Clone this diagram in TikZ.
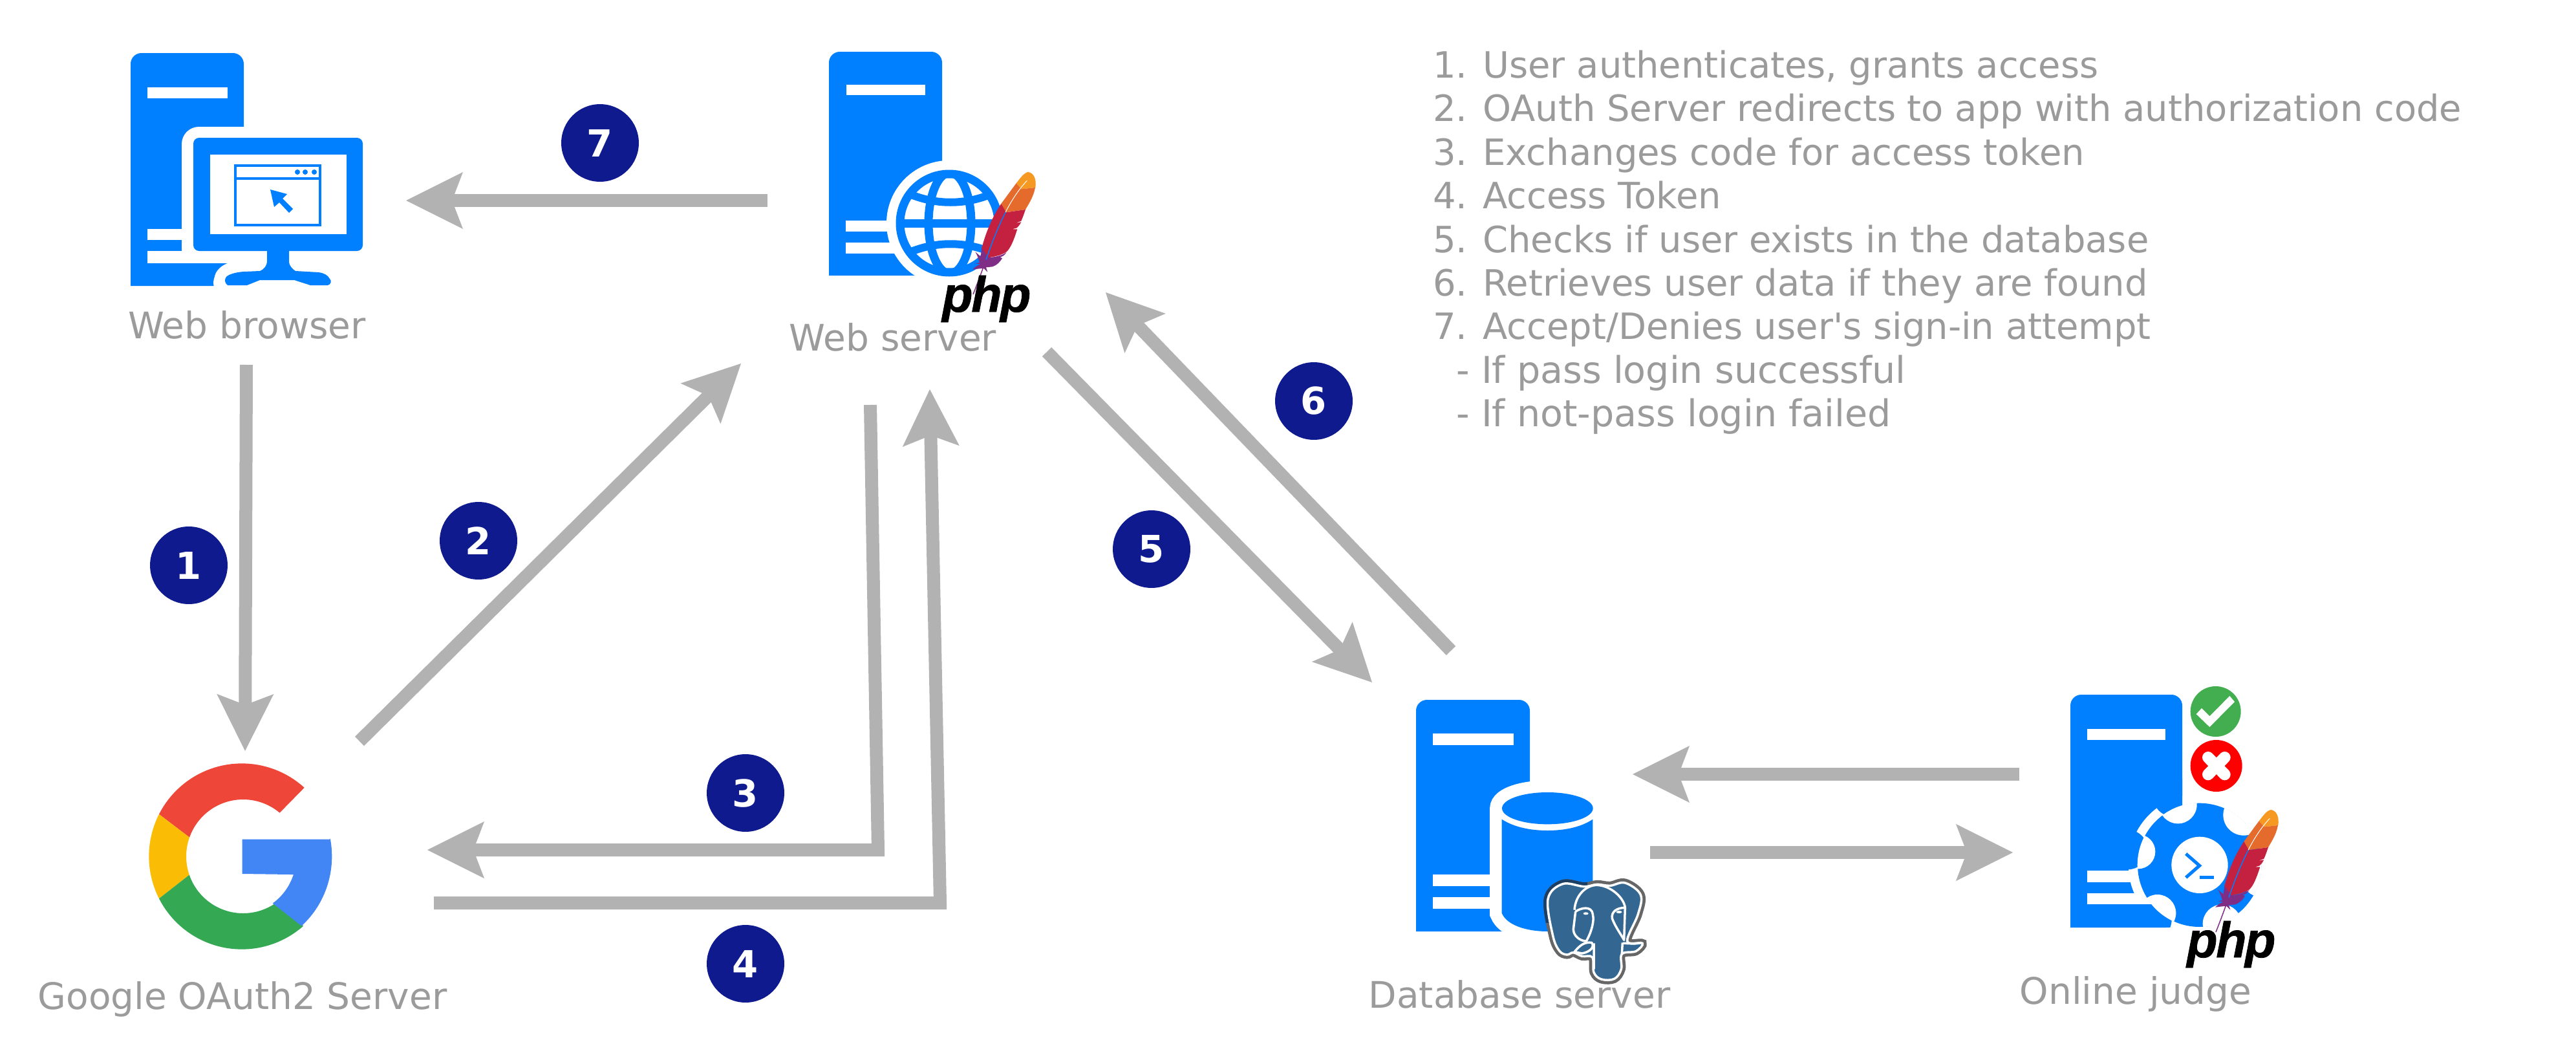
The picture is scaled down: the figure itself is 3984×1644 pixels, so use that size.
\documentclass[tikz,border=0pt]{standalone}
\usepackage{fontspec}
\setmainfont{DejaVu Sans}
\newfontfamily\aposfont{DejaVu Sans}
\newfontfamily\phpfont[LetterSpace=-3,BoldItalicFeatures={FakeBold=1}]{Liberation Sans}
\usetikzlibrary{arrows.meta}
\definecolor{iconblue}{HTML}{0080FF}
\definecolor{flowgray}{HTML}{B2B2B2}
\definecolor{labelgray}{HTML}{9B9B9B}
\definecolor{badgeblue}{HTML}{101A8F}
\definecolor{pgblue}{HTML}{336791}
\definecolor{pgdark}{HTML}{1C3F63}
\definecolor{pggray}{HTML}{666666}
\definecolor{gred}{HTML}{EE4639}
\definecolor{gyellow}{HTML}{FBBC05}
\definecolor{ggreen}{HTML}{34A853}
\definecolor{gblue}{HTML}{4285F4}
\definecolor{okgreen}{HTML}{43AE4F}
\definecolor{fa}{HTML}{F69923}
\definecolor{fb}{HTML}{E56B2C}
\definecolor{fc}{HTML}{C4203F}
\definecolor{fd}{HTML}{7F2D85}
\newcommand\pw[1]{#1*0.025cm}
\newcommand\towershape[4]{%
  \fill[iconblue] (#1,#4) [rounded corners=12pt] -- (#1,#2) -- (#3,#2) [sharp corners] -- (#3,#4) -- cycle;}
\newcommand\slotbar[4]{\fill[white] (#1,#2) rectangle (#3,#4);}
\newcommand\featherlogo[2]{%
  \begin{scope}[shift={(#1,#2)},scale=1/3]
    \fill[fa] (1115,760) .. controls (1135,735) and (1150,712) .. (1170,708) .. controls (1195,710) and (1210,740) .. (1204,780) -- (1140,787) -- cycle;
    \fill[fb] (1115,760) -- (1140,787) -- (1203,780) .. controls (1195,825) and (1170,860) .. (1158,882) -- (1065,895) -- (1045,855) -- cycle;
    \fill[fc] (1045,855) -- (1068,895) -- (1158,882) .. controls (1150,905) and (1145,920) .. (1138,935) -- (1112,945) -- (1138,940) .. controls (1130,955) and (1125,960) .. (1118,967) -- (1097,973) -- (1120,973) .. controls (1105,1020) and (1090,1060) .. (1070,1078) .. controls (1045,1095) and (1015,1100) .. (985,1105) -- (955,1060) .. controls (975,985) and (1005,915) .. (1045,855) -- cycle;
    \fill[fd] (955,1060) -- (985,1105) .. controls (1020,1102) and (1050,1095) .. (1070,1080) .. controls (1060,1095) and (1052,1100) .. (1040,1102) -- (1050,1108) .. controls (1040,1125) and (1025,1140) .. (1005,1147) -- (975,1150) -- (982,1172) -- (965,1155) .. controls (945,1155) and (930,1158) .. (912,1160) .. controls (925,1148) and (935,1140) .. (950,1135) -- (925,1132) -- (945,1128) .. controls (940,1110) and (935,1095) .. (925,1078) -- (950,1100) -- cycle;
    \draw[white,line width=\pw{1}] (1165,748) .. controls (1125,790) and (1090,845) .. (1065,895);
    \draw[iconblue,line width=\pw{1.5}] (1065,895) .. controls (1030,965) and (1000,1040) .. (975,1115);
    \draw[fd,line width=\pw{1.5}] (975,1115) .. controls (955,1170) and (935,1225) .. (915,1275);
  \end{scope}}
\tikzset{
  flow/.style={draw=flowgray,line width=\pw{20},-{Stealth[length=62.6pt,width=62.6pt,inset=12pt,line width=0pt]},miter limit=10},
  badge/.style={circle,fill=badgeblue,text=white,minimum size=85.3pt,inner sep=0pt,font=\fontsize{41pt}{41pt}\selectfont\bfseries},
  tag/.style={anchor=base,inner sep=0pt,text=labelgray,font=\fontsize{40.2pt}{47pt}\selectfont},
  listline/.style={anchor=base west,inner sep=0pt,text=labelgray,font=\fontsize{39.8pt}{47pt}\selectfont},
  subline/.style={listline,font=\fontsize{40.6pt}{47pt}\selectfont},
  phpmark/.style={anchor=base west,inner sep=0pt,text=black,font=\phpfont\fontsize{55pt}{56pt}\selectfont\bfseries\itshape},
}
\begin{document}
\begin{tikzpicture}[x=0.025cm,y=-0.025cm]
\useasboundingbox (0,0) rectangle (3984,1644);
\fill[white] (0,0) rectangle (3984,1644);

%% ---------- web browser icon
\towershape{202}{82}{377}{442}
\slotbar{228}{135}{352}{152}
\slotbar{228}{354}{300}{371}
\slotbar{228}{388}{377}{407}
\fill[white,rounded corners=19pt] (281,196) rectangle (580,406);
\fill[white] (281,370) rectangle (300,388);
\path[fill=white,draw=white,line width=\pw{36},line join=round]
  (413,388) -- (413,403) (402,419) -- (377,420) .. controls (362,421) and (353,425) .. (350,430) -- (348,437) -- (352,441) -- (480,441) -- (507,441) -- (512,435) -- (507,425) -- (493,421) -- (457,419) -- cycle;
\fill[iconblue,rounded corners=6.4pt] (299,213) rectangle (561,388);
\fill[white] (325,239) rectangle (536,362);
\draw[iconblue,line width=\pw{4}] (364,256) rectangle (495,348);
\draw[iconblue,line width=\pw{4}] (364,276) -- (495,276);
\fill[iconblue] (460,266) circle[radius=4] (472,266) circle[radius=4] (486,266) circle[radius=4];
\fill[iconblue] (418,293) -- (444,300) -- (437,307) -- (453,323) -- (447,329) -- (432,313) -- (424,320) -- cycle;
\fill[iconblue] (413,385) -- (413,403) .. controls (413,412) and (407,417) .. (402,419) -- (377,420) .. controls (362,421) and (353,425) .. (350,428) .. controls (347,432) and (347,437) .. (352,441) -- (382,441) -- (402,433) -- (455,433) -- (480,441) -- (507,441) .. controls (512,440) and (513,434) .. (510,431) .. controls (507,425) and (500,422) .. (493,421) -- (457,419) .. controls (452,416) and (447,410) .. (447,405) -- (447,385) -- cycle;

%% ---------- web server icon
\towershape{1282}{80}{1457}{426}
\slotbar{1309}{131}{1431}{147}
\slotbar{1308}{341}{1420}{358}
\slotbar{1308}{375}{1420}{392}
\fill[white] (1468,345) circle[radius=97];
\draw[iconblue,line width=\pw{13}] (1468,345) circle[radius=76];
\begin{scope}
  \clip (1468,345) circle[radius=78];
  \draw[iconblue,line width=\pw{13}] (1469,345) circle[x radius=33,y radius=78];
  \draw[iconblue,line width=\pw{13}] (1385,345) -- (1551,345);
  \draw[iconblue,line width=\pw{12}] (1400,297) .. controls (1445,318) and (1495,318) .. (1540,297);
  \draw[iconblue,line width=\pw{12}] (1400,393) .. controls (1445,372) and (1495,372) .. (1540,393);
\end{scope}
\featherlogo{1200}{30}
\node[phpmark] (phpweb) at (1457,482) {php};

%% ---------- database server icon
\towershape{2190}{1082}{2366}{1440}
\slotbar{2216}{1134}{2341}{1152}
\slotbar{2216}{1352}{2320}{1370}
\slotbar{2216}{1387}{2320}{1405}
\begin{scope}[shift={(2100,1050)},scale=1/3]
  \draw[white,fill=white,line width=\pw{37}] (668,600) .. controls (668,555) and (770,525) .. (880,525) .. controls (990,525) and (1090,555) .. (1090,600) -- (1090,1085) .. controls (1070,1140) and (980,1170) .. (880,1170) .. controls (780,1170) and (690,1140) .. (668,1085) -- cycle;
  \fill[iconblue] (880,599) circle[x radius=211,y radius=74];
  \fill[iconblue] (668,650) .. controls (730,690) and (810,702) .. (880,702) .. controls (950,702) and (1030,690) .. (1090,650) -- (1090,1085) .. controls (1070,1140) and (980,1170) .. (880,1170) .. controls (780,1170) and (690,1140) .. (668,1085) -- cycle;
  %% elephant
  \def\pgoutline{plot[smooth cycle,tension=0.6] coordinates {(882,1020) (950,950) (1050,962) (1110,952) (1170,958) (1240,945) (1312,1000) (1300,1090) (1250,1215) (1320,1225) (1290,1262) (1225,1275) (1222,1345) (1190,1390) (1130,1392) (1095,1360) (1088,1290) (1040,1285) (1000,1268) (970,1278) (935,1260) (905,1190)}}
  \draw[pggray,line width=\pw{13}] \pgoutline;
  \begin{scope}
    \clip (840,900) rectangle (1065,1130);
    \draw[pgdark,line width=\pw{13}] \pgoutline;
  \end{scope}
  \fill[pgblue] \pgoutline;
  \draw[white,line width=\pw{3.5}] \pgoutline;
  \draw[white,line width=\pw{3.5},line join=round]
    (1005,1070) .. controls (1010,1000) and (1060,955) .. (1110,955) .. controls (1175,958) and (1235,1015) .. (1240,1060)
    (1010,1078) .. controls (1035,1060) and (1085,1050) .. (1090,1090) .. controls (1100,1130) and (1075,1190) .. (1060,1215) .. controls (1030,1215) and (1000,1190) .. (1000,1160) -- (1010,1078)
    (1095,1225) -- (1095,1345)
    (1240,1060) .. controls (1200,1060) and (1175,1080) .. (1180,1110) .. controls (1195,1150) and (1225,1190) .. (1235,1210) -- (1240,1060)
    (1228,1222) -- (1225,1275)
    (1005,1265) .. controls (1030,1235) and (1050,1218) .. (1085,1222) .. controls (1100,1240) and (1080,1265) .. (1040,1272) -- (1005,1265)
    (1230,1225) .. controls (1260,1225) and (1290,1230) .. (1315,1222);
  \fill[white] (1058,1087) circle[x radius=12,y radius=6] (1212,1080) circle[x radius=14,y radius=6];
\end{scope}

%% ---------- online judge icon
\towershape{3202}{1074}{3375}{1434}
\begin{scope}[shift={(3150,1030)},scale=1/3]
  \fill[white] (755,922) circle[radius=330];
  \begin{scope}
    \clip (156,131) rectangle (675,1211);
    \fill[iconblue] (422,851) circle[radius=92];
    \fill[iconblue] (632,605) circle[radius=92];
    \fill[iconblue] (528,1175) circle[radius=98];
  \end{scope}
\end{scope}
\slotbar{3228}{1127}{3349}{1144}
\slotbar{3228}{1346}{3330}{1364}
\slotbar{3228}{1381}{3360}{1398}
\begin{scope}[shift={(3150,1030)},scale=1/3]
  \fill[iconblue] (755,922) circle[radius=287];
  \begin{scope}
    \clip (755,922) circle[radius=288];
    \fill[white] (470,860) circle[radius=80] (655,642) circle[radius=88] (960,690) circle[radius=95]
                 (1040,982) circle[radius=88] (860,1195) circle[radius=90] (560,1145) circle[radius=86];
  \end{scope}
  \fill[white] (756,922) circle[radius=131];
  \draw[iconblue,line width=\pw{5}] (692,870) -- (755,925) -- (692,980);
  \fill[iconblue] (757,972) rectangle (822,987);
  \fill[okgreen] (830,210) circle[radius=117];
  \fill[white] (740,222) -- (765,195) -- (802,232) -- (895,138) -- (918,165) -- (802,282) -- cycle;
  \fill[red] (833,462) circle[radius=120];
  \draw[white,line width=\pw{18},line cap=round] (795,423) -- (872,502) (872,423) -- (795,502);
\end{scope}
\featherlogo{3122}{1016}
\node[phpmark] (phpjudge) at (3382,1480) {php};

%% ---------- Google G
\begin{scope}[shift={(180,1150)},scale=1/3]
  \fill[gred] plot[domain=47.7:153,samples=40] ({582+431*cos(\x)},{522-431*sin(\x)}) -- plot[domain=160.5:50,samples=40] ({588+264*cos(\x)},{522-264*sin(\x)}) -- cycle;
  \fill[gyellow] plot[domain=153:207,samples=20] ({582+431*cos(\x)},{522-431*sin(\x)}) -- plot[domain=199:160.5,samples=20] ({588+264*cos(\x)},{522-264*sin(\x)}) -- cycle;
  \fill[ggreen] plot[domain=207:311.5,samples=40] ({582+431*cos(\x)},{522-431*sin(\x)}) -- plot[domain=304.5:199,samples=40] ({588+264*cos(\x)},{522-264*sin(\x)}) -- cycle;
  \fill[gblue] (584,443) -- (990,443) -- plot[domain=11:-48.5,samples=30] ({582+418*cos(\x)},{522-431*sin(\x)}) -- plot[domain=-55.5:-18.6,samples=20] ({582+253*cos(\x)},{522-264*sin(\x)}) -- (584,603) -- cycle;
\end{scope}

%% ---------- labels
\node[tag] (lbbrowser) at (382,523) {Web browser};
\node[tag] (lbserver) at (1381,542) {Web server};
\node[tag] (lbgoogle) at (375,1560) {Google OAuth2 Server};
\node[tag] (lbdb) at (2350,1558) {Database server};
\node[tag] (lbjudge) at (3303,1552) {Online judge};

\node[listline] (s1) at (2216,120) {1. User authenticates, grants access};
\node[listline] (s2) at (2216,187) {2. OAuth Server redirects to app with authorization code};
\node[listline] (s3) at (2216,255) {3. Exchanges code for access token};
\node[listline] (s4) at (2216,322) {4. Access Token};
\node[listline] (s5) at (2216,390) {5. Checks if user exists in the database};
\node[listline] (s6) at (2216,457) {6. Retrieves user data if they are found};
\node[listline] (s7) at (2216,524) {7. Accept/Denies user{\aposfont '}s sign-in attempt};
\node[subline] (s8) at (2252,592) {- If pass login successful};
\node[subline] (s9) at (2252,659) {- If not-pass login failed};

%% ---------- connectors
\coordinate (a1s) at (381,564);  \coordinate (a1e) at (379,1161);
\coordinate (a2s) at (556,1146); \coordinate (a2e) at (1146,562);
\coordinate (a3s) at (1346,626); \coordinate (a3c) at (1358,1314); \coordinate (a3e) at (661,1314);
\coordinate (a4s) at (671,1396); \coordinate (a4c) at (1454,1396); \coordinate (a4e) at (1438,602);
\coordinate (a5s) at (1619,544); \coordinate (a5e) at (2122,1055);
\coordinate (a6s) at (2244,1006); \coordinate (a6e) at (1710,452);
\coordinate (a7s) at (1187,310); \coordinate (a7e) at (628,310);
\coordinate (a8s) at (3123,1197); \coordinate (a8e) at (2525,1197);
\coordinate (a9s) at (2552,1318); \coordinate (a9e) at (3113,1318);
\draw[flow] (a1s) -- (a1e);
\draw[flow] (a2s) -- (a2e);
\draw[flow] (a3s) -- (a3c) -- (a3e);
\draw[flow] (a4s) -- (a4c) -- (a4e);
\draw[flow] (a5s) -- (a5e);
\draw[flow] (a6s) -- (a6e);
\draw[flow] (a7s) -- (a7e);
\draw[flow] (a8s) -- (a8e);
\draw[flow] (a9s) -- (a9e);

%% ---------- badges
\node[badge] (b1) at (292,874) {1};
\node[badge] (b2) at (740,836) {2};
\node[badge] (b3) at (1153,1226) {3};
\node[badge] (b4) at (1153,1490) {4};
\node[badge] (b5) at (1781,849) {5};
\node[badge] (b6) at (2032,620) {6};
\node[badge] (b7) at (928,221) {7};
\end{tikzpicture}
\end{document}
